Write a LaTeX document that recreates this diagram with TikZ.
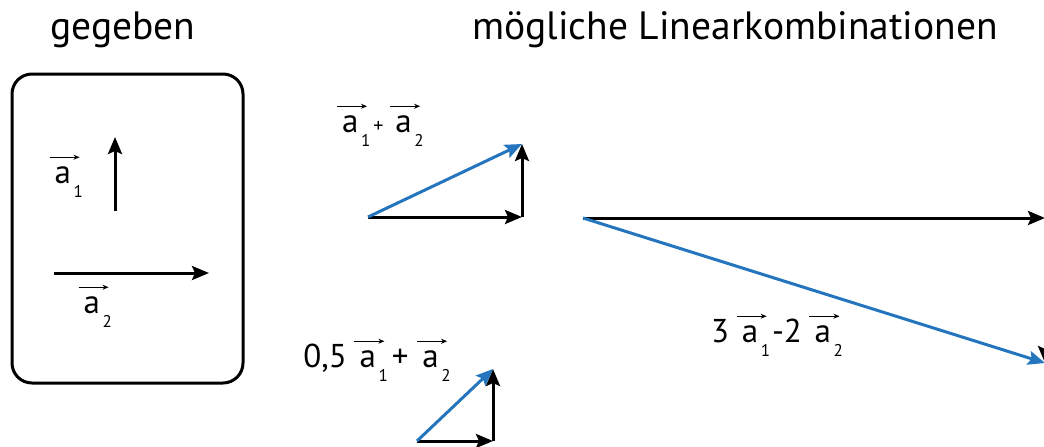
\documentclass[tikz,border=0pt]{standalone}
\usepackage{fontspec}
\setmainfont{PT Sans}
\usepackage{tikz}
\usetikzlibrary{arrows.meta}
\definecolor{blau}{RGB}{36,117,190}
% Vektor a mit Pfeil und Index
\newcommand{\va}[1]{\tikz[baseline=(va.base),x=1pt,y=1pt]{%
  \node[inner sep=0pt,anchor=base west] (va) at (0,0) {a};
  \draw[line width=1.1pt,-{Stealth[length=6pt,width=5pt]}] (-5,26) -- (25,26);
  \node[inner sep=0pt,anchor=base west,font=\fontsize{17}{20}\selectfont] (vi) at (19,-14) {#1};}}

\begin{document}
\begin{tikzpicture}[x=1pt,y=-1pt,>={Stealth[length=17pt,width=14pt,inset=3pt]},
  pfeil/.style={->,line width=3pt},
  summe/.style={->,line width=3pt,draw=blau,fill=blau},
  lbl/.style={inner sep=0pt,font=\fontsize{33}{38}\selectfont},
  titel/.style={inner sep=0pt,font=\fontsize{39.5}{46}\selectfont}]
\useasboundingbox (0,0) rectangle (1044,447);
\clip (0,0) rectangle (1044,447);
% Titel
\node[titel] (gegeben) at (123,30) {gegeben};
\node[titel] (moeglich) at (735,30) {mögliche Linearkombinationen};
% gegebene Vektoren
\draw[line width=3pt,rounded corners=20pt] (12,74) rectangle (243,383);
\coordinate (a1s) at (115,211);
\coordinate (a1e) at (115,137);
\coordinate (a2s) at (54,273);
\coordinate (a2e) at (209,273);
\draw[pfeil] (a1s) -- (a1e);
\draw[pfeil] (a2s) -- (a2e);
\node[lbl] (la1) at (66,176) {\va1};
\node[lbl] (la2) at (95,306) {\va2};
% a1 + a2
\coordinate (A1) at (368,217);
\coordinate (B1) at (522,217);
\coordinate (C1) at (522,144);
\draw[pfeil] (A1) -- (B1);
\draw[pfeil] (B1) -- (C1);
\draw[summe] (A1) -- (C1);
\node[lbl] (lsum1) at (380,125) {\va1\kern3pt{\fontsize{20}{24}\selectfont +}\kern6pt\va2};
% 0,5 a1 + a2
\coordinate (A2) at (417,441);
\coordinate (B2) at (493,441);
\coordinate (C2) at (493,369);
\draw[pfeil] (A2) -- (B2);
\draw[pfeil] (B2) -- (C2);
\draw[summe] (A2) -- (C2);
\node[lbl] (lsum2) at (377,360) {0,5\kern7pt\va1\kern4pt+\kern8pt\va2};
% 3 a1 - 2 a2
\coordinate (A3) at (583,218);
\coordinate (B3) at (1045,218);
\coordinate (C3) at (1045,363);
\draw[pfeil] (A3) -- (B3);
\draw[pfeil] (B3) -- (C3);
\draw[summe] (A3) -- (C3);
\node[lbl] (lsum3) at (777,335) {3\kern7pt\va1\kern2pt-2\kern7pt\va2};
\end{tikzpicture}
\end{document}
